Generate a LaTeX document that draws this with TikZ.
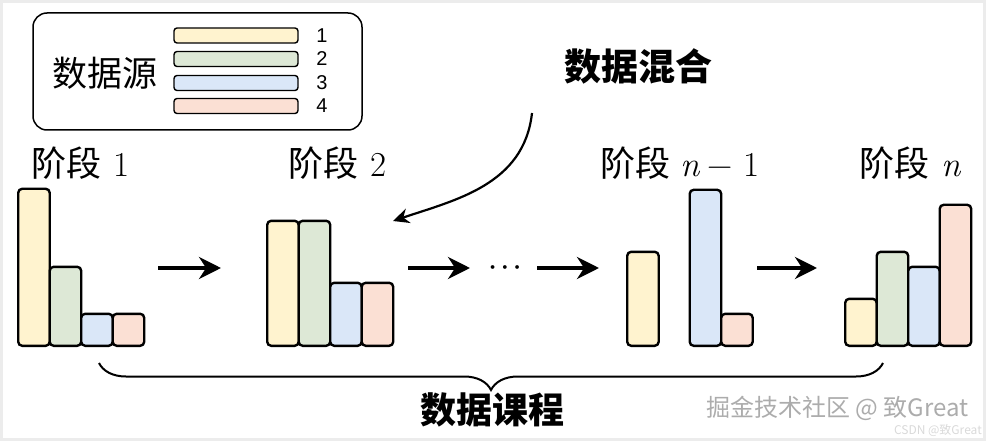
\RequirePackage{fix-cm}
\documentclass[tikz,border=0pt]{standalone}
\usepackage{fontspec}
\newfontfamily\cjk{Noto Sans CJK SC}
\newfontfamily\numfont{Liberation Sans}
\usepackage{tikz}
\usetikzlibrary{arrows.meta, positioning, decorations.pathreplacing}

\definecolor{srcyellow}{HTML}{FFF3CF}
\definecolor{srcgreen}{HTML}{DDE8D6}
\definecolor{srcblue}{HTML}{DAE7F8}
\definecolor{srcpeach}{HTML}{FBE0D4}

\begin{document}
\begin{tikzpicture}[
    x=1pt, y=-1pt,
    bar/.style={draw=black, line width=2.4pt, rounded corners=4pt, minimum width=31.5pt, inner sep=0pt, anchor=south west},
    legendbar/.style={draw=black, line width=1.4pt, rounded corners=3pt, minimum width=124pt, minimum height=15pt, inner sep=0pt},
    stage/.style={font=\fontsize{35}{38}\selectfont\cjk},
    title/.style={font=\fontsize{37}{40}\selectfont\cjk\bfseries},
    flow/.style={line width=4pt, -{Stealth[length=22pt, width=22pt]}},
    mix/.style={line width=2.2pt, -{Stealth[length=16pt, width=15pt]}}
]
\useasboundingbox (0,0) rectangle (986,441);
\draw[gray!15, line width=3pt] (1.5,1.5) rectangle (984.5,439.5);

% data source legend
\node[draw=black, line width=1.5pt, rounded corners=14pt, minimum width=329pt, minimum height=117pt] (src) at (197.5,71.5) {};
\node[font=\fontsize{35}{38}\selectfont\cjk] (srclabel) at (105,73) {数据源};
\node[legendbar, fill=srcyellow] (leg1) at (236,35.5) {};
\node[legendbar, fill=srcgreen] (leg2) at (236,59) {};
\node[legendbar, fill=srcblue] (leg3) at (236,83) {};
\node[legendbar, fill=srcpeach] (leg4) at (236,106) {};
\node[font=\fontsize{20}{22}\selectfont\numfont] (num1) at (322,35.5) {1};
\node[font=\fontsize{20}{22}\selectfont\numfont] (num2) at (322,59) {2};
\node[font=\fontsize{20}{22}\selectfont\numfont] (num3) at (322,83) {3};
\node[font=\fontsize{20}{22}\selectfont\numfont] (num4) at (322,106) {4};

% stage labels
\node[stage] (st1) at (81,163) {阶段\hspace{12pt}{\rmfamily 1}};
\node[stage] (st2) at (338,163) {阶段\hspace{12pt}{\rmfamily 2}};
\node[stage] (stm) at (680,163) {阶段\hspace{10pt}{\rmfamily\itshape n} {\rmfamily − 1}};
\node[stage] (stn) at (910,163) {阶段\hspace{12pt}{\rmfamily\itshape n}};

% stage 1
\node[bar, fill=srcyellow, minimum height=157pt] (s1a) at (17,347) {};
\node[bar, fill=srcgreen, minimum height=79pt] (s1b) at (48.5,347) {};
\node[bar, fill=srcblue, minimum height=32pt] (s1c) at (80,347) {};
\node[bar, fill=srcpeach, minimum height=32pt] (s1d) at (111.5,347) {};

% stage 2
\node[bar, fill=srcyellow, minimum height=125pt] (s2a) at (266,347) {};
\node[bar, fill=srcgreen, minimum height=125pt] (s2b) at (297.5,347) {};
\node[bar, fill=srcblue, minimum height=63pt] (s2c) at (329,347) {};
\node[bar, fill=srcpeach, minimum height=63pt] (s2d) at (360.5,347) {};

% stage n-1
\node[bar, fill=srcyellow, minimum height=94pt] (sma) at (626,347) {};
\node[bar, fill=srcblue, minimum height=156pt] (smc) at (688.5,347) {};
\node[bar, fill=srcpeach, minimum height=32pt] (smd) at (720,347) {};

% stage n
\node[bar, fill=srcyellow, minimum height=47pt] (sna) at (844,347) {};
\node[bar, fill=srcgreen, minimum height=94pt] (snb) at (875.5,347) {};
\node[bar, fill=srcblue, minimum height=79pt] (snc) at (907,347) {};
\node[bar, fill=srcpeach, minimum height=141pt] (snd) at (938.5,347) {};

% flow between stages
\coordinate (a1s) at (158,268);
\coordinate (a1e) at (221,268);
\coordinate (a2s) at (408,268);
\coordinate (a2e) at (470,268);
\coordinate (a3s) at (537,268);
\coordinate (a3e) at (599,268);
\coordinate (a4s) at (757,268);
\coordinate (a4e) at (817,268);
\draw[flow] (a1s) -- (a1e);
\draw[flow] (a2s) -- (a2e);
\node[scale=2.4, font=\boldmath] (dots) at (505,268) {$\cdots$};
\draw[flow] (a3s) -- (a3e);
\draw[flow] (a4s) -- (a4e);

% data mixing
\node[title] (mixlabel) at (638,66) {数据混合};
\coordinate (mixs) at (532,113);
\coordinate (mixe) at (393,221);
\draw[mix] (mixs) .. controls (524,185) and (455,200) .. (mixe);

% curriculum brace
\coordinate (bl) at (99,363);
\coordinate (br) at (883,363);
\draw[line width=2pt, decorate, decoration={brace, mirror, amplitude=27pt}] (bl) -- (br);
\node[title, font=\fontsize{36}{40}\selectfont\cjk\bfseries] (course) at (492,410) {数据课程};

% watermark
\node[font=\fontsize{24}{26}\selectfont\cjk, text=gray!65, anchor=east] (wm) at (972,408) {掘金技术社区 @ 致Great};
\node[font=\fontsize{12}{13}\selectfont\cjk, text=gray!30, anchor=east, inner sep=1pt] (wm2) at (983,430) {CSDN @致Great};

\end{tikzpicture}
\end{document}
